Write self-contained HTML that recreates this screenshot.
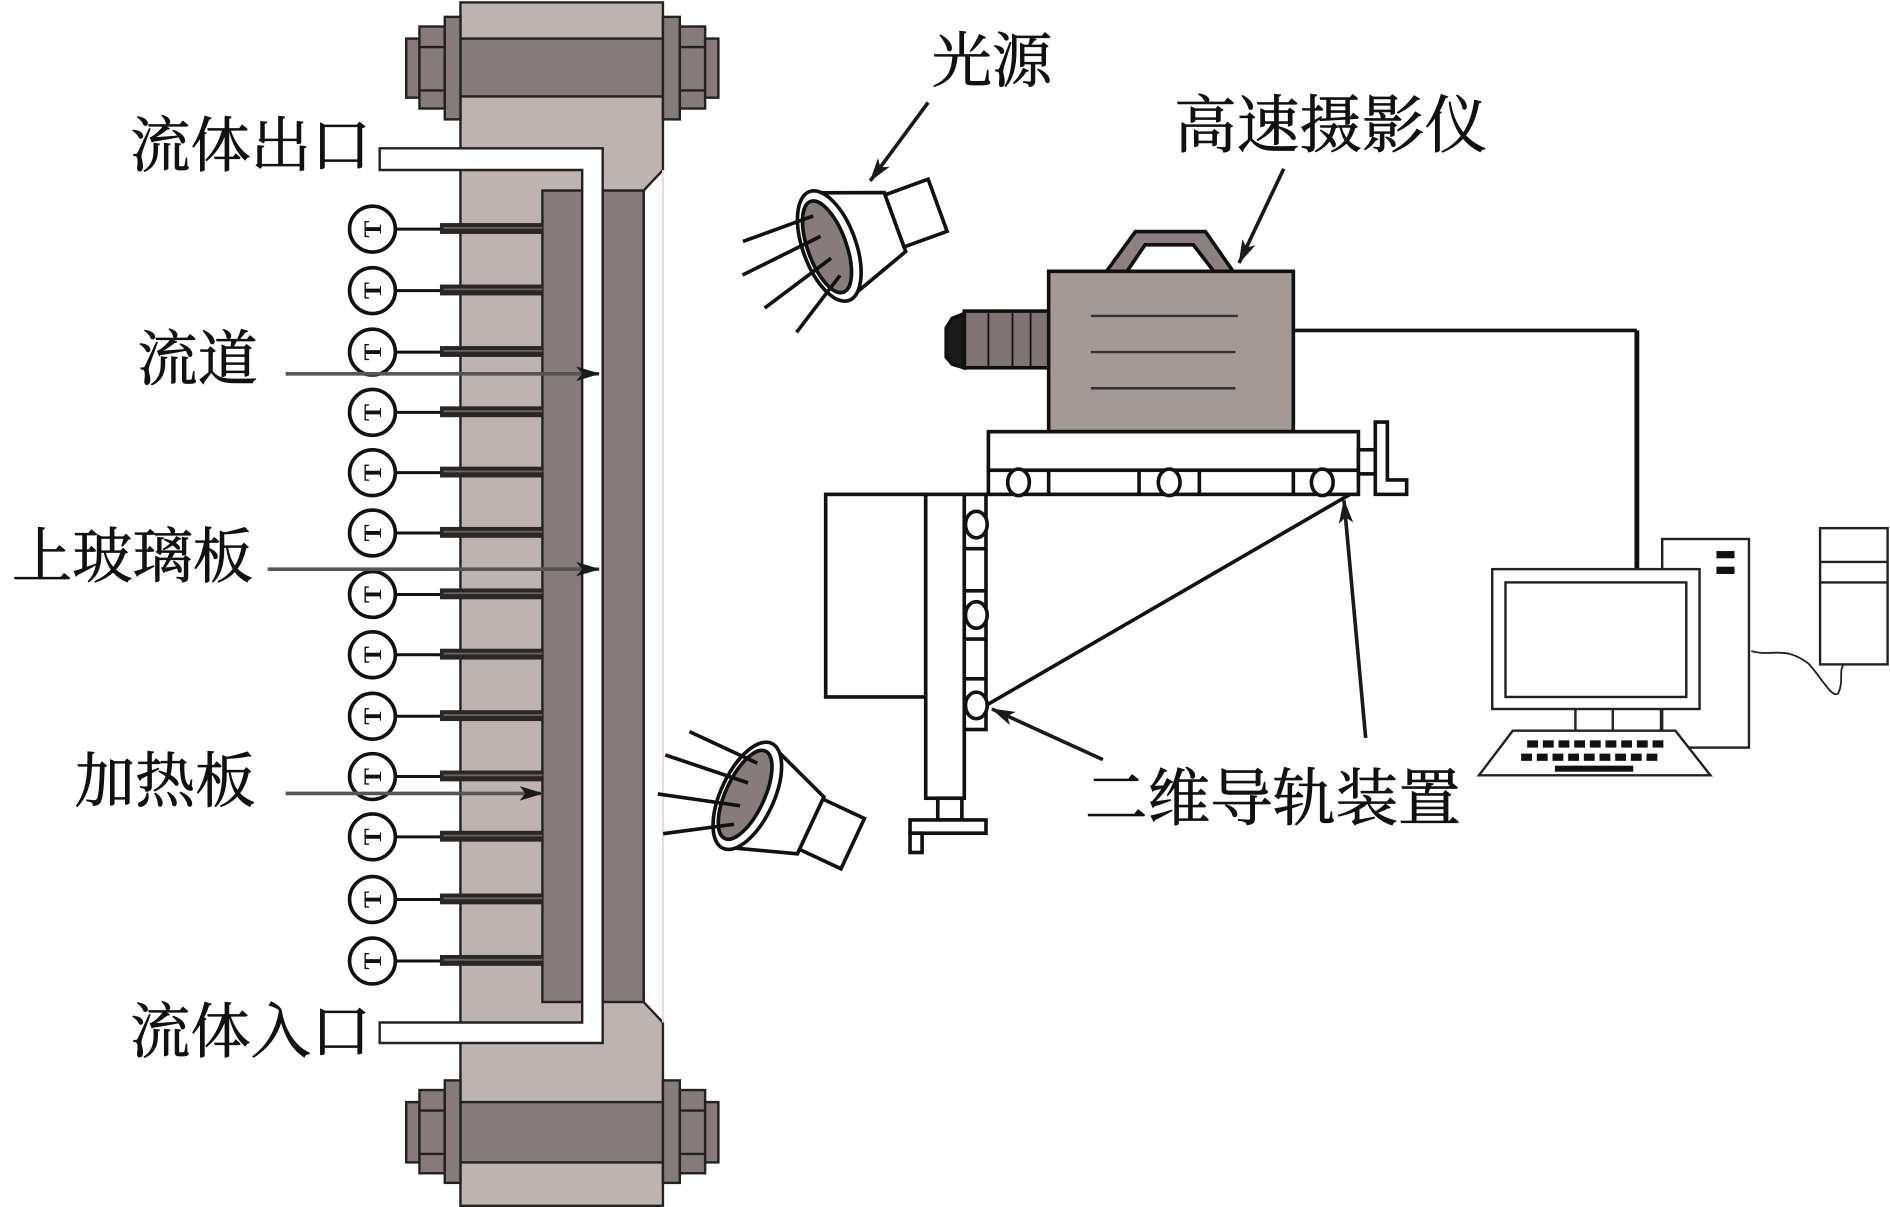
<!DOCTYPE html>
<html><head><meta charset="utf-8"><style>
html,body{margin:0;padding:0;background:#fff}
svg{display:block}
text{font-family:"Liberation Serif","Noto Serif CJK SC",serif;fill:#111}
</style></head><body>
<svg width="1890" height="1207" viewBox="0 0 1568 1001" preserveAspectRatio="none" xmlns="http://www.w3.org/2000/svg">
<defs>
<marker id="ah" viewBox="0 0 20 12" refX="19" refY="6" markerWidth="20" markerHeight="12" markerUnits="userSpaceOnUse" orient="auto">
<path d="M0,0 L20,6 L0,12 L5,6 Z" fill="#1a1a1a"/></marker>
<g id="light" stroke="#111" stroke-width="3" fill="#fff">
<path d="M8,-44 L58,-26 L58,26 L8,44 Z"/>
<rect x="58" y="-24" width="38" height="46"/>
<ellipse cx="0" cy="0" rx="22" ry="48"/>
<ellipse cx="-2" cy="0" rx="16" ry="40" fill="#857c7b"/>
<line x1="-4" y1="-28" x2="-66" y2="-28"/><line x1="-4" y1="-10" x2="-76" y2="-2"/>
<line x1="-2" y1="10" x2="-68" y2="30"/><line x1="0" y1="26" x2="-50" y2="58"/>
</g>
<g id="tc">
<circle cx="309" cy="0" r="19" fill="#fff" stroke="#111" stroke-width="3"/>
<text x="0" y="0" font-size="21" font-weight="bold" text-anchor="middle" transform="translate(316,0) rotate(-90)" style="font-family:'Liberation Serif',serif">T</text>
<line x1="328" y1="0" x2="368" y2="0" stroke="#111" stroke-width="2.5"/>
<rect x="365" y="-5" width="85" height="9" fill="#2a2626"/>
<line x1="368" y1="-1" x2="450" y2="-1" stroke="#6b6362" stroke-width="1.5"/>
</g>
</defs>

<path d="M382,2 L550,2 L550,141 L534,158 L534,831 L550,848 L550,1000 L382,1000 Z" fill="#bdb4b1" stroke="#222" stroke-width="2"/>
<line x1="550" y1="141" x2="550" y2="848" stroke="#e8d8d8" stroke-width="1.5"/>
<g stroke="#222" stroke-width="2" fill="#857b7a">
<rect x="382" y="32" width="168" height="48"/>
<rect x="337" y="32" width="11" height="49"/><rect x="348" y="22" width="21" height="68"/>
<line x1="348" y1="39" x2="369" y2="39"/><line x1="348" y1="75" x2="369" y2="75"/>
<rect x="369" y="14" width="13" height="85"/>
<rect x="550" y="14" width="14" height="85"/><rect x="564" y="22" width="21" height="68"/>
<line x1="564" y1="39" x2="585" y2="39"/><line x1="564" y1="75" x2="585" y2="75"/>
<rect x="585" y="32" width="11" height="49"/>
<rect x="382" y="914" width="168" height="50"/>
<rect x="337" y="914" width="11" height="50"/><rect x="348" y="904" width="21" height="69"/>
<line x1="348" y1="921" x2="369" y2="921"/><line x1="348" y1="957" x2="369" y2="957"/>
<rect x="369" y="896" width="13" height="85"/>
<rect x="550" y="896" width="14" height="85"/><rect x="564" y="904" width="21" height="69"/>
<line x1="564" y1="921" x2="585" y2="921"/><line x1="564" y1="957" x2="585" y2="957"/>
<rect x="585" y="914" width="11" height="50"/>
</g>
<rect x="450" y="158" width="33" height="673" fill="#857b7a" stroke="#222" stroke-width="2"/>
<rect x="500" y="158" width="34" height="673" fill="#857b7a" stroke="#222" stroke-width="2"/>
<path d="M315,123 L500,123 L500,865 L315,865 L315,848 L483,848 L483,141 L315,141 Z" fill="#fff" stroke="#222" stroke-width="2"/>
<use href="#tc" y="190"/><use href="#tc" y="241"/><use href="#tc" y="292"/><use href="#tc" y="342"/>
<use href="#tc" y="392"/><use href="#tc" y="442"/><use href="#tc" y="493"/><use href="#tc" y="543"/>
<use href="#tc" y="594"/><use href="#tc" y="644"/><use href="#tc" y="694"/><use href="#tc" y="746"/><use href="#tc" y="797"/>

<g font-size="50" stroke="#111" stroke-width="0.6">
<text x="108" y="138">流体出口</text>
<text x="114" y="315">流道</text>
<text x="10" y="479">上玻璃板</text>
<text x="62" y="665">加热板</text>
<text x="108" y="873">流体入口</text>
<text x="773" y="68">光源</text>
<text x="974" y="122" font-size="52">高速摄影仪</text>
<text x="900" y="680" font-size="52">二维导轨装置</text>
</g>
<g stroke="#555" stroke-width="3" marker-end="url(#ah)">
<line x1="237" y1="310" x2="497" y2="310"/>
<line x1="222" y1="472" x2="497" y2="472"/>
<line x1="237" y1="658" x2="450" y2="658"/>
</g>
<g stroke="#1a1a1a" stroke-width="3" marker-end="url(#ah)">
<line x1="770" y1="85" x2="722" y2="150"/>
<line x1="1065" y1="140" x2="1028" y2="218"/>
<line x1="915" y1="630" x2="823" y2="588"/>
<line x1="1133" y1="612" x2="1115" y2="415"/>
</g>

<use href="#light" transform="translate(688,204) rotate(-20)"/>
<use href="#light" transform="translate(620,660) rotate(25)"/>

<g stroke="#111" stroke-width="3">
<path d="M918,225 L942,192 L1000,192 L1023,225 L1007,225 L990,203 L950,203 L935,225 Z" fill="#8a8180"/>
<rect x="870" y="225" width="203" height="133" fill="#a39a97"/>
<rect x="800" y="258" width="70" height="47" fill="#7d7473"/>
<path d="M800,260 L790,264 L785,272 L785,296 L790,302 L800,305 Z" fill="#1a1a1a"/>
<line x1="820" y1="258" x2="820" y2="305" stroke-width="1.5"/><line x1="840" y1="258" x2="840" y2="305" stroke-width="1.5"/><line x1="855" y1="258" x2="855" y2="305" stroke-width="1.5"/>
<line x1="1073" y1="274" x2="1358" y2="274"/><line x1="1358" y1="274" x2="1358" y2="472" stroke-width="4"/>
</g>
<g stroke="#333" stroke-width="2"><line x1="905" y1="262" x2="1027" y2="262"/><line x1="905" y1="292" x2="1025" y2="292"/><line x1="905" y1="322" x2="1025" y2="322"/></g>

<g stroke="#111" stroke-width="3" fill="#fff">
<rect x="820" y="358" width="307" height="32"/>
<rect x="820" y="390" width="307" height="20"/>
<line x1="870" y1="390" x2="870" y2="410"/><line x1="945" y1="390" x2="945" y2="410"/><line x1="995" y1="390" x2="995" y2="410"/><line x1="1073" y1="390" x2="1073" y2="410"/>
<ellipse cx="845" cy="400" rx="9" ry="11"/><ellipse cx="970" cy="400" rx="9" ry="11"/><ellipse cx="1097" cy="400" rx="9" ry="11"/>
<rect x="1127" y="373" width="14" height="20"/>
<path d="M1141,350 L1151,350 L1151,398 L1167,398 L1167,410 L1141,410 Z"/>
<rect x="685" y="410" width="83" height="168"/>
<rect x="768" y="410" width="32" height="252"/>
<rect x="800" y="410" width="18" height="195"/>
<line x1="800" y1="455" x2="818" y2="455"/><line x1="800" y1="490" x2="818" y2="490"/><line x1="800" y1="530" x2="818" y2="530"/><line x1="800" y1="563" x2="818" y2="563"/>
<ellipse cx="810" cy="435" rx="9" ry="11"/><ellipse cx="810" cy="510" rx="9" ry="11"/><ellipse cx="810" cy="585" rx="9" ry="11"/>
<rect x="778" y="662" width="20" height="18"/>
<rect x="755" y="680" width="63" height="11"/>
<rect x="755" y="691" width="10" height="16"/>
<line x1="818" y1="585" x2="1120" y2="410"/>
</g>

<g stroke="#222" stroke-width="2" fill="#fff">
<rect x="1379" y="447" width="72" height="173"/>
<rect x="1238" y="472" width="172" height="116"/>
<rect x="1249" y="483" width="150" height="95"/>
<line x1="1307" y1="588" x2="1307" y2="606"/><line x1="1338" y1="588" x2="1338" y2="606"/><line x1="1378" y1="588" x2="1378" y2="606"/>
<path d="M1255,606 L1390,606 L1419,643 L1227,643 Z"/>
<rect x="1510" y="438" width="56" height="113"/>
<line x1="1510" y1="466" x2="1566" y2="466"/><line x1="1510" y1="483" x2="1566" y2="483"/>
<path d="M1453,540 C1470,545 1480,535 1500,550 C1510,560 1520,580 1525,575 C1530,565 1525,555 1530,551" fill="none" stroke-width="1.5"/>
</g>
<g fill="#111">
<rect x="1424" y="457" width="15" height="6"/><rect x="1424" y="470" width="15" height="6"/>
<g id="krow"><rect x="1267" y="614" width="9" height="6"/><rect x="1280" y="614" width="9" height="6"/><rect x="1293" y="614" width="9" height="6"/><rect x="1306" y="614" width="9" height="6"/><rect x="1319" y="614" width="9" height="6"/><rect x="1332" y="614" width="9" height="6"/><rect x="1345" y="614" width="9" height="6"/><rect x="1358" y="614" width="9" height="6"/><rect x="1371" y="614" width="9" height="6"/></g>
<use href="#krow" x="-5" y="11"/>
<rect x="1290" y="635" width="65" height="5"/>
</g>
</svg>
</body></html>
